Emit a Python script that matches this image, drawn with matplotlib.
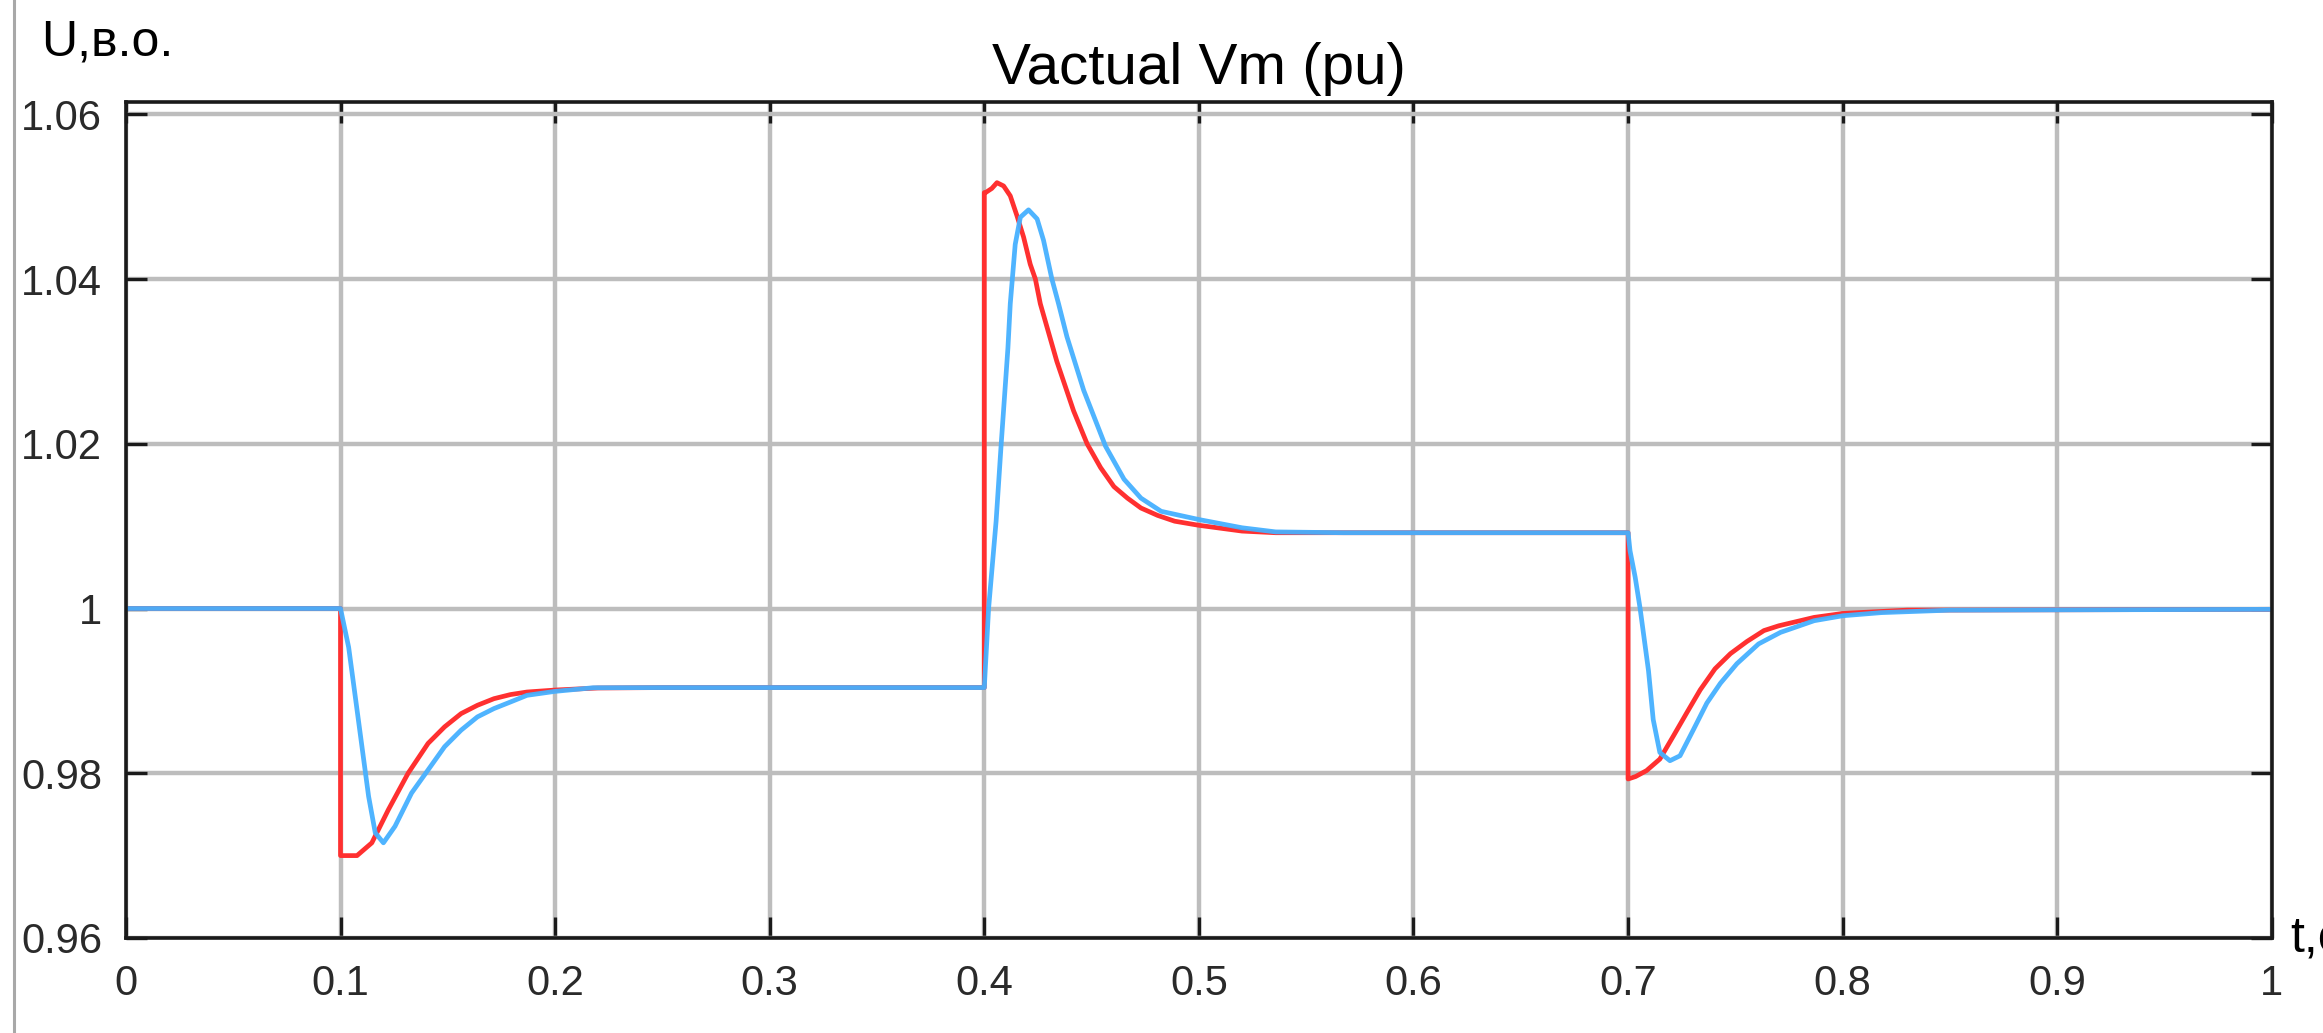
import numpy as np
import matplotlib
matplotlib.use("Agg")
import matplotlib.pyplot as plt
from matplotlib.lines import Line2D

plt.rcParams['font.family'] = ['Liberation Sans', 'DejaVu Sans']

# red trace (t, U)
red_t = [0.0, 0.1, 0.1, 0.1077, 0.1146, 0.1223, 0.1315, 0.1408, 0.1485, 0.1562,
         0.1638, 0.1715, 0.1792, 0.1869, 0.2, 0.22, 0.25, 0.4,
         0.4, 0.4006, 0.4035, 0.4059, 0.409, 0.4121, 0.4152, 0.4183, 0.4214,
         0.4238, 0.4261, 0.4338, 0.4416, 0.4479, 0.4542, 0.4604, 0.4667, 0.473,
         0.4808, 0.4887, 0.5, 0.5201, 0.5358, 0.6, 0.7,
         0.7, 0.7035, 0.7086, 0.7148, 0.7211, 0.7273, 0.7336, 0.7405, 0.7477,
         0.7554, 0.7633, 0.7702, 0.7867, 0.8, 0.83, 1.0]
red_u = [1.0, 1.0, 0.9700, 0.9700, 0.97155, 0.97557, 0.9800, 0.98362, 0.98563, 0.98724,
         0.98825, 0.98905, 0.98955, 0.98986, 0.99010, 0.99035, 0.9904, 0.9904,
         1.0505, 1.0505, 1.0510, 1.0517, 1.0513, 1.0501, 1.0477, 1.0451, 1.0418,
         1.0400, 1.0370, 1.0300, 1.0240, 1.0200, 1.0171, 1.0148, 1.0134, 1.0122,
         1.0113, 1.0106, 1.0101, 1.0094, 1.0092, 1.0092, 1.0092,
         0.9793, 0.9796, 0.98032, 0.98172, 0.98452, 0.98732, 0.99012, 0.99268, 0.99452,
         0.99600, 0.99732, 0.99790, 0.99892, 0.9994, 0.9998, 0.9999]

# blue trace (t, U)
blue_t = [0.0, 0.1, 0.1038, 0.1069, 0.11, 0.1131, 0.1162, 0.12, 0.1254, 0.1331,
          0.1408, 0.1485, 0.1562, 0.1638, 0.1715, 0.1792, 0.1869, 0.2, 0.2177,
          0.25, 0.4,
          0.402, 0.4055, 0.4078, 0.411, 0.4121, 0.4144, 0.4168, 0.4206, 0.4246,
          0.4276, 0.4315, 0.4346, 0.4385, 0.4463, 0.4565, 0.4651, 0.473, 0.4824,
          0.5, 0.5201, 0.5358, 0.5672, 0.7,
          0.7009, 0.7033, 0.7056, 0.7095, 0.7117, 0.7148, 0.7195, 0.7242, 0.7305,
          0.7367, 0.743, 0.7507, 0.7608, 0.771, 0.7867, 0.8, 0.818, 0.85, 1.0]
blue_u = [1.0, 1.0, 0.99529, 0.98926, 0.98322, 0.97718, 0.97276, 0.97155, 0.97356, 0.97759,
          0.9804, 0.98322, 0.98523, 0.98684, 0.98785, 0.98865, 0.98946, 0.98994, 0.99038,
          0.9904, 0.9904,
          1.0, 1.0106, 1.0197, 1.0316, 1.0370, 1.0442, 1.0475, 1.0484, 1.0473,
          1.0447, 1.0400, 1.0370, 1.0330, 1.0265, 1.0197, 1.0157, 1.0134, 1.0118,
          1.0108, 1.0098, 1.0093, 1.0092, 1.0092,
          1.0070, 1.0038, 1.0, 0.99245, 0.98652, 0.98252, 0.98152, 0.98212, 0.98532,
          0.98852, 0.99092, 0.99330, 0.99570, 0.99710, 0.99852, 0.99912, 0.9995, 0.9998, 0.9999]

x_ticks = [0, 0.1, 0.2, 0.3, 0.4, 0.5, 0.6, 0.7, 0.8, 0.9, 1]
x_labels = ['0', '0.1', '0.2', '0.3', '0.4', '0.5', '0.6', '0.7', '0.8', '0.9', '1']
y_ticks = [0.96, 0.98, 1.0, 1.02, 1.04, 1.06]
y_labels = ['0.96', '0.98', '1', '1.02', '1.04', '1.06']

fig = plt.figure(figsize=(23.23, 10.33), dpi=100)
ax = fig.add_axes([0.0542, 0.0920, 0.9238, 0.8093])

ax.plot(red_t, red_u, color='#ff3030', lw=3.4, solid_joinstyle='round')
ax.plot(blue_t, blue_u, color='#45b0ff', lw=3.4, alpha=0.95, solid_joinstyle='round')

ax.set_xlim(0, 1)
ax.set_ylim(0.96, 1.0615)
ax.set_xticks(x_ticks)
ax.set_xticklabels(x_labels)
ax.set_yticks(y_ticks)
ax.set_yticklabels(y_labels)

ax.grid(True, color='#bdbdbd', lw=3.2)
ax.set_axisbelow(True)
for s in ax.spines.values():
    s.set_linewidth(2.6)
    s.set_color('#1a1a1a')
ax.tick_params(direction='in', length=15, width=2.4, color='#1a1a1a',
               top=True, right=True, labelsize=30, labelcolor='#2a2a2a')
ax.tick_params(axis='x', pad=19)
ax.tick_params(axis='y', pad=17)

ax.set_title('Vactual Vm (pu)', fontsize=42, pad=13)

fig.text(41 / 2323, 1 - 56 / 1033, 'U,в.о.', fontsize=36, ha='left', va='baseline')
fig.text(2290 / 2323, 1 - 952 / 1033, 't,с', fontsize=36, ha='left', va='baseline')

# frame edge of the original screenshot
fig.add_artist(Line2D([14 / 2323, 14 / 2323], [0, 1], color='#a8a8a8', lw=2.2,
                      transform=fig.transFigure))

fig.savefig('out.png', dpi=100)
